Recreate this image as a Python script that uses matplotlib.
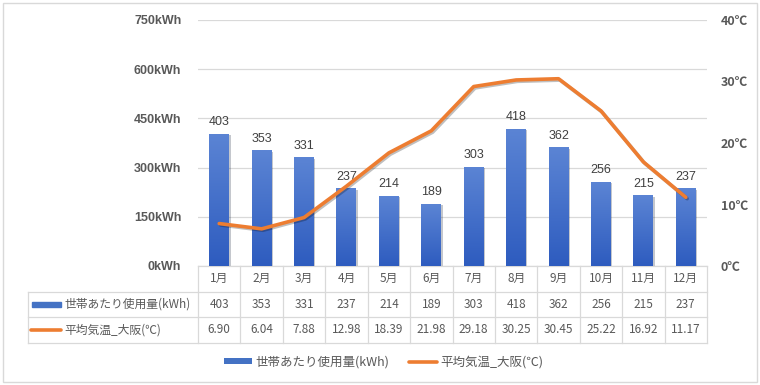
import numpy as np
import matplotlib
matplotlib.use("Agg")
import matplotlib.pyplot as plt
from matplotlib.patches import Rectangle, Patch
from matplotlib.lines import Line2D
from matplotlib.transforms import blended_transform_factory
import matplotlib.patheffects as pe

plt.rcParams['font.family'] = ['Noto Sans CJK JP', 'DejaVu Sans']

# データ
months = ["1月", "2月", "3月", "4月", "5月", "6月", "7月", "8月", "9月", "10月", "11月", "12月"]
usage = [403, 353, 331, 237, 214, 189, 303, 418, 362, 256, 215, 237]
temp = [6.90, 6.04, 7.88, 12.98, 18.39, 21.98, 29.18, 30.25, 30.45, 25.22, 16.92, 11.17]
usage_label = "世帯あたり使用量(kWh)"
temp_label = "平均気温_大阪(℃)"
left_ticks = [0, 150, 300, 450, 600, 750]
right_ticks = [0, 10, 20, 30, 40]

blue = "#4472C4"
orange = "#ED7D31"
grid_c = "#d9d9d9"
txt_c = "#595959"

fig = plt.figure(figsize=(7.6, 3.85), dpi=100)
ax = fig.add_axes([198/760, 1-266/385, 509/760, 246/385])
x = np.arange(len(months))

# 棒グラフ (グラデーション)
bars = ax.bar(x, usage, width=0.47, color=blue, zorder=2,
              path_effects=[pe.SimplePatchShadow(offset=(1, -1), alpha=0.25), pe.Normal()])
grad = np.linspace(0, 1, 100).reshape(-1, 1)
from matplotlib.colors import LinearSegmentedColormap
cmap = LinearSegmentedColormap.from_list("g", ["#2e5cbf", "#5b84d4"])
for b in bars:
    bx, by = b.get_x(), b.get_y()
    w, h = b.get_width(), b.get_height()
    im = ax.imshow(grad, extent=[bx, bx+w, by, by+h], origin="lower",
                   cmap=cmap, aspect="auto", zorder=2.1)
    im.set_clip_path(b)
for xi, v in zip(x, usage):
    ax.annotate(str(v), (xi, v), xytext=(0, 4), textcoords="offset points",
                ha="center", va="bottom", fontsize=9, color="#404040",
                family="Liberation Sans", zorder=3)

ax.set_xlim(-0.5, len(months)-0.5)
ax.set_ylim(0, 750)
ax.set_yticks(left_ticks)
ax.set_yticklabels([f"{t}kWh" for t in left_ticks], fontsize=9, fontweight="bold",
                   color=txt_c, family="Liberation Sans")
ax.set_xticks([])
ax.tick_params(axis="y", length=0, pad=12)
ax.grid(axis="y", color=grid_c, lw=0.9, zorder=0)
for s in ax.spines.values():
    s.set_visible(False)
ax.set_aspect("auto")

# 折れ線 (右軸)
ax2 = ax.twinx()
ax2.plot(x, temp, color=orange, lw=2.6, solid_capstyle="round", solid_joinstyle="round",
         path_effects=[pe.SimpleLineShadow(offset=(1, -1), alpha=0.25), pe.Normal()])
ax2.set_ylim(0, 40)
ax2.set_yticks(right_ticks)
ax2.set_yticklabels([f"{t}℃" for t in right_ticks], fontsize=9, fontweight="bold",
                    color=txt_c)
ax2.tick_params(axis="y", length=0, pad=10)
for s in ax2.spines.values():
    s.set_visible(False)
ax2.set_xlim(-0.5, len(months)-0.5)

# データテーブル
tr = blended_transform_factory(ax.transData, ax.transAxes)
rows_y = [0, -0.104, -0.207, -0.313]
label_x = -4.5
n = len(months)
kw = dict(color=grid_c, lw=0.9, transform=tr, clip_on=False)
ax.plot([-0.5, n-0.5], [rows_y[0]]*2, **kw)
for ry in rows_y[1:]:
    ax.plot([label_x, n-0.5], [ry]*2, **kw)
for i in range(n+1):
    ax.plot([i-0.5]*2, [rows_y[0], rows_y[3]], **kw)
ax.plot([label_x]*2, [rows_y[1], rows_y[3]], **kw)

tkw = dict(transform=tr, ha="center", va="center", fontsize=8.5, color=txt_c, clip_on=False)
for i in range(n):
    ax.text(i, (rows_y[0]+rows_y[1])/2, months[i], **tkw)
    ax.text(i, (rows_y[1]+rows_y[2])/2, str(usage[i]), **tkw)
    ax.text(i, (rows_y[2]+rows_y[3])/2, f"{temp[i]:.2f}", **tkw)

y1 = (rows_y[1]+rows_y[2])/2
y2 = (rows_y[2]+rows_y[3])/2
ax.add_patch(Rectangle((-4.41, y1-0.011), 0.69, 0.022, color=blue, transform=tr, clip_on=False))
ax.plot([-4.43, -3.72], [y2, y2], color=orange, lw=2.6, solid_capstyle="round",
        transform=tr, clip_on=False)
ax.text(-3.65, y1, usage_label, transform=tr, ha="left", va="center", fontsize=8.5,
        color=txt_c, clip_on=False)
ax.text(-3.65, y2, temp_label, transform=tr, ha="left", va="center", fontsize=8.5,
        color=txt_c, clip_on=False)

# 凡例
handles = [Patch(facecolor=blue, edgecolor="none"),
           Line2D([], [], color=orange, lw=2.6, solid_capstyle="round")]
fig.legend(handles, [usage_label, temp_label], loc="center", ncol=2,
           bbox_to_anchor=(0.505, 1-362/385), frameon=False, fontsize=9,
           handlelength=2.2, handleheight=0.45, columnspacing=1.6, handletextpad=0.3,
           labelcolor=txt_c)

# 外枠
fig.patches.append(Rectangle((3/760, 3/385), 754/760, 379/385, transform=fig.transFigure,
                             fill=False, edgecolor=grid_c, lw=1))

fig.savefig("out.png", dpi=100)
